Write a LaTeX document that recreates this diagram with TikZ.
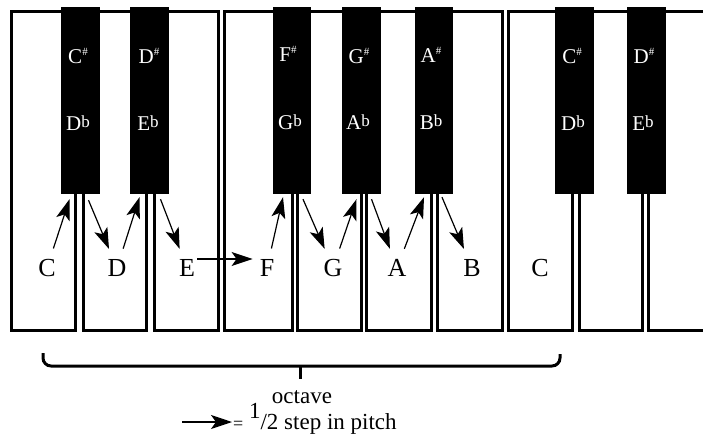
\documentclass[tikz,border=0pt]{standalone}
\usepackage{fontspec}
\setmainfont{Liberation Serif}
\usepackage{tikz}
\usetikzlibrary{arrows.meta}
\usetikzlibrary{calc}

\newcommand{\sharpnote}[1]{#1\raisebox{0.4em}{\fontsize{11}{11}\selectfont\#}}
\newcommand{\flatnote}[1]{#1\raisebox{0.12em}{\fontsize{17}{17}\selectfont b}}

\tikzset{
    whitekey/.style={draw, line width=3pt},
    blackkey/.style={fill=black, inner sep=0pt, minimum width=38.5pt, minimum height=187pt},
    keylabel/.style={text=white, inner sep=1pt, font=\fontsize{21}{22}\selectfont},
    notelabel/.style={inner sep=2pt, font=\fontsize{26}{28}\selectfont},
    halfstep/.style={-{Stealth[length=21pt, width=14pt, inset=5pt]}, line width=1.2pt},
    stepup/.style={halfstep, shorten <=9pt},
    stepdown/.style={halfstep, shorten >=9pt}
}

\begin{document}
\begin{tikzpicture}[x=1pt, y=-1pt]
        \useasboundingbox (0,0) rectangle (703,447);

        % white keys
        \draw[whitekey] (11.5,11) rectangle (75.5,330);
        \draw[whitekey] (83.5,11) rectangle (146.5,330);
        \draw[whitekey] (154.5,11) rectangle (218.5,330);
        \draw[whitekey] (224.5,11) rectangle (292.5,330);
        \draw[whitekey] (297.5,11) rectangle (361.5,330);
        \draw[whitekey] (366.5,11) rectangle (431.5,330);
        \draw[whitekey] (437.5,11) rectangle (502.5,330);
        \draw[whitekey] (508.5,11) rectangle (572.5,330);
        \draw[whitekey] (579.5,11) rectangle (642.5,330);
        \draw[whitekey] (703,11) -- (648.5,11) -- (648.5,330) -- (703,330);

        % black keys
        \node[blackkey] (cs1) at (80.5,100.5) {};
        \node[blackkey] (ds1) at (149.5,100.5) {};
        \node[blackkey] (fs1) at (292,100.5) {};
        \node[blackkey] (gs1) at (361.5,100.5) {};
        \node[blackkey] (as1) at (434,100.5) {};
        \node[blackkey] (cs2) at (574.5,100.5) {};
        \node[blackkey] (ds2) at (646.5,100.5) {};

        \node[keylabel] (cs1up) at (78,56) {\sharpnote{C}};
        \node[keylabel] (cs1dn) at (78,123) {\flatnote{D}};
        \node[keylabel] (ds1up) at (149,56) {\sharpnote{D}};
        \node[keylabel] (ds1dn) at (148,123) {\flatnote{E}};
        \node[keylabel] (fs1up) at (288,54) {\sharpnote{F}};
        \node[keylabel] (fs1dn) at (290,122) {\flatnote{G}};
        \node[keylabel] (gs1up) at (359,56) {\sharpnote{G}};
        \node[keylabel] (gs1dn) at (358,122) {\flatnote{A}};
        \node[keylabel] (as1up) at (431,55) {\sharpnote{A}};
        \node[keylabel] (as1dn) at (431,122) {\flatnote{B}};
        \node[keylabel] (cs2up) at (572,56) {\sharpnote{C}};
        \node[keylabel] (cs2dn) at (573,123) {\flatnote{D}};
        \node[keylabel] (ds2up) at (644,56) {\sharpnote{D}};
        \node[keylabel] (ds2dn) at (643,123) {\flatnote{E}};

        % note names
        \node[notelabel] (C1) at (47,268) {C};
        \node[notelabel] (D1) at (117,268) {D};
        \node[notelabel] (E1) at (187,268) {E};
        \node[notelabel] (F1) at (267,268) {F};
        \node[notelabel] (G1) at (333,268) {G};
        \node[notelabel] (A1) at (397,268) {A};
        \node[notelabel] (B1) at (472,268) {B};
        \node[notelabel] (C2) at (540,268) {C};

        % half steps
        \draw[stepup] (C1) -- ($(cs1.south)+(-11,5)$);
        \draw[stepdown] ($(cs1.south)+(8,6)$) -- (D1);
        \draw[stepup] (D1) -- ($(ds1.south)+(-10,3)$);
        \draw[stepdown] ($(ds1.south)+(11,5)$) -- (E1);
        \draw[halfstep, shorten >=5pt] ([yshift=9pt]E1.east) -- ([yshift=9pt]F1.west);
        \draw[stepup] (F1) -- ($(fs1.south)+(-9,3)$);
        \draw[stepdown] ($(fs1.south)+(11,5)$) -- (G1);
        \draw[stepup] (G1) -- ($(gs1.south)+(-5,5)$);
        \draw[stepdown] ($(gs1.south)+(10,5)$) -- (A1);
        \draw[stepup] (A1) -- ($(as1.south)+(-10,3)$);
        \draw[stepdown] ($(as1.south)+(8,3)$) -- (B1);

        % octave brace
        \draw[line width=3pt, rounded corners=8pt] (43,353) -- (43,366) -- (560,366) -- (560,354);
        \coordinate (bracemid) at (300,366);
        \node[font=\fontsize{23}{25}\selectfont, inner sep=2pt] (octave) at (302,397) {octave};
        \draw[line width=3pt] (bracemid) -- ++(0,13);

        % legend
        \coordinate (legend) at (182,422);
        \node[anchor=base west, inner sep=1pt, font=\fontsize{23}{25}\selectfont] (legtext) at (232,429)
            {{\fontsize{18}{18}\selectfont =} \raisebox{0.45em}{1}/2 step in pitch};
        \draw[halfstep] (legend) -- (legend -| legtext.west);
    \end{tikzpicture}
\end{document}
